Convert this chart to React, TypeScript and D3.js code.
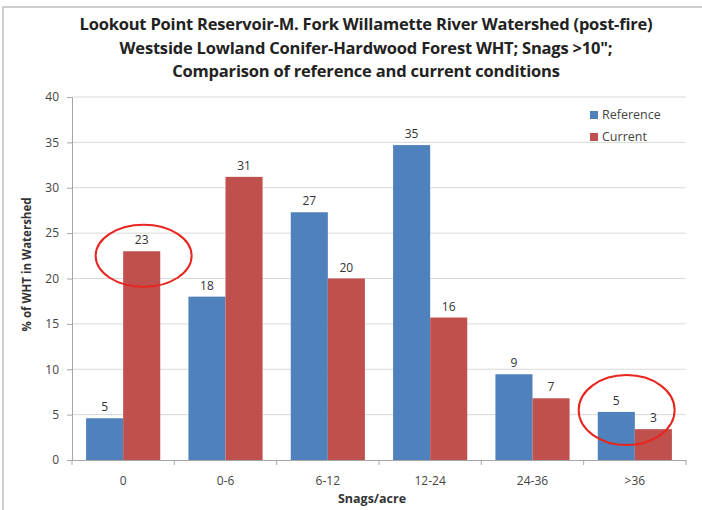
import { useEffect, useRef } from 'react';
import * as d3 from 'd3';

const categories = ['0', '0-6', '6-12', '12-24', '24-36', '>36'];
const reference = [4.6, 18.0, 27.3, 34.7, 9.45, 5.3];
const current = [23.0, 31.2, 20.0, 15.7, 6.8, 3.4];
const referenceLabels = ['5', '18', '27', '35', '9', '5'];
const currentLabels = ['23', '31', '20', '16', '7', '3'];
const yTicks = [0, 5, 10, 15, 20, 25, 30, 35, 40];
const titleLines = [
  'Lookout Point Reservoir-M. Fork Willamette River Watershed (post-fire)',
  'Westside Lowland Conifer-Hardwood Forest WHT; Snags >10";',
  'Comparison of reference and current conditions',
];

const W = 702;
const H = 510;
const font = "'Open Sans', sans-serif";

export default function App() {
  const svgRef = useRef<SVGSVGElement>(null);

  useEffect(() => {
    if (!svgRef.current) return;
    const svg = d3.select(svgRef.current);
    svg.selectAll('*').remove();

    const margin = { top: 97, right: 16, bottom: 50, left: 72 };
    const x0 = d3
      .scaleBand()
      .domain(categories)
      .range([margin.left, W - margin.right]);
    const x1 = d3
      .scaleBand()
      .domain(['ref', 'cur'])
      .range([0, x0.bandwidth()])
      .paddingOuter(0.38)
      .paddingInner(0);
    const y = d3.scaleLinear().domain([0, 40]).range([460, margin.top]);

    // frame
    svg
      .append('path')
      .attr('d', `M3,${H} L3,7 L${W},7`)
      .attr('fill', 'none')
      .attr('stroke', '#bfbfbf')
      .attr('stroke-width', 1.5);

    // title
    titleLines.forEach((t, i) => {
      svg
        .append('text')
        .attr('x', 366)
        .attr('y', 30 + i * 23.5)
        .attr('text-anchor', 'middle')
        .attr('font-family', font)
        .attr('font-size', '16.5px')
        .attr('font-weight', 'bold')
        .attr('letter-spacing', '-0.2px')
        .attr('fill', '#222')
        .text(t);
    });

    // gridlines
    svg
      .append('g')
      .selectAll('line')
      .data(yTicks.slice(1))
      .join('line')
      .attr('x1', margin.left)
      .attr('x2', W - margin.right)
      .attr('y1', (d) => y(d))
      .attr('y2', (d) => y(d))
      .attr('stroke', '#d9d9d9')
      .attr('stroke-width', 1);

    // y axis
    const yAxis = svg
      .append('g')
      .attr('transform', `translate(${margin.left},0)`)
      .call(d3.axisLeft(y).tickValues(yTicks).tickSize(5).tickPadding(8));
    yAxis.select('.domain').attr('stroke', '#a6a6a6');
    yAxis.selectAll('line').attr('stroke', '#a6a6a6');
    yAxis
      .selectAll('text')
      .attr('font-family', font)
      .attr('font-size', '12px')
      .attr('fill', '#444');

    // x axis
    const xAxis = svg
      .append('g')
      .attr('transform', `translate(0,${y(0)})`)
      .call(d3.axisBottom(x0).tickSize(0).tickPadding(16));
    xAxis.select('.domain').attr('stroke', '#a6a6a6');
    xAxis
      .selectAll('text')
      .attr('font-family', font)
      .attr('font-size', '12px')
      .attr('fill', '#444');
    // ticks at band boundaries
    svg
      .append('g')
      .selectAll('line')
      .data(d3.range(categories.length + 1))
      .join('line')
      .attr('x1', (i) => margin.left + i * x0.step())
      .attr('x2', (i) => margin.left + i * x0.step())
      .attr('y1', y(0))
      .attr('y2', y(0) + 5)
      .attr('stroke', '#a6a6a6');

    // bars
    const series = [
      { key: 'ref', values: reference, labels: referenceLabels, color: '#4f81bd' },
      { key: 'cur', values: current, labels: currentLabels, color: '#c0504d' },
    ];
    series.forEach((s) => {
      const g = svg.append('g');
      g.selectAll('rect')
        .data(categories)
        .join('rect')
        .attr('x', (c) => (x0(c) ?? 0) + (x1(s.key) ?? 0))
        .attr('y', (_, i) => y(s.values[i]))
        .attr('width', x1.bandwidth())
        .attr('height', (_, i) => y(0) - y(s.values[i]))
        .attr('fill', s.color);
      g.selectAll('text')
        .data(categories)
        .join('text')
        .attr('x', (c) => (x0(c) ?? 0) + (x1(s.key) ?? 0) + x1.bandwidth() / 2)
        .attr('y', (_, i) => y(s.values[i]) - 7)
        .attr('text-anchor', 'middle')
        .attr('font-family', font)
        .attr('font-size', '12px')
        .attr('fill', '#333')
        .text((_, i) => s.labels[i]);
    });

    // legend
    const legend = svg.append('g').attr('transform', 'translate(590,111)');
    [
      { label: 'Reference', color: '#4f81bd' },
      { label: 'Current', color: '#c0504d' },
    ].forEach((l, i) => {
      legend
        .append('rect')
        .attr('x', 0)
        .attr('y', i * 22)
        .attr('width', 8)
        .attr('height', 8)
        .attr('fill', l.color);
      legend
        .append('text')
        .attr('x', 12)
        .attr('y', i * 22 + 8)
        .attr('font-family', font)
        .attr('font-size', '12.5px')
        .attr('fill', '#444')
        .text(l.label);
    });

    // axis titles
    svg
      .append('text')
      .attr('transform', `translate(31,${(y(0) + y(40)) / 2 - 14}) rotate(-90)`)
      .attr('text-anchor', 'middle')
      .attr('font-family', font)
      .attr('font-size', '11.5px')
      .attr('font-weight', 'bold')
      .attr('fill', '#333')
      .text('% of WHT in Watershed');
    svg
      .append('text')
      .attr('x', 372)
      .attr('y', 503)
      .attr('text-anchor', 'middle')
      .attr('font-family', font)
      .attr('font-size', '12.5px')
      .attr('font-weight', 'bold')
      .attr('fill', '#333')
      .text('Snags/acre');

    // highlight ellipses
    const annotations = [
      { cat: '0', value: 22.5, dx: 0.2, rx: 48, ry: 31 },
      { cat: '>36', value: 5.5, dx: -0.08, rx: 48, ry: 35 },
    ];
    annotations.forEach((a) => {
      svg
        .append('ellipse')
        .attr('cx', (x0(a.cat) ?? 0) + x0.bandwidth() * (0.5 + a.dx))
        .attr('cy', y(a.value))
        .attr('rx', a.rx)
        .attr('ry', a.ry)
        .attr('fill', 'none')
        .attr('stroke', '#e8251f')
        .attr('stroke-width', 2);
    });
  }, []);

  return (
    <svg
      ref={svgRef}
      width={W}
      height={H}
      style={{ position: 'absolute', left: 0, top: 0, background: '#fff' }}
    />
  );
}
